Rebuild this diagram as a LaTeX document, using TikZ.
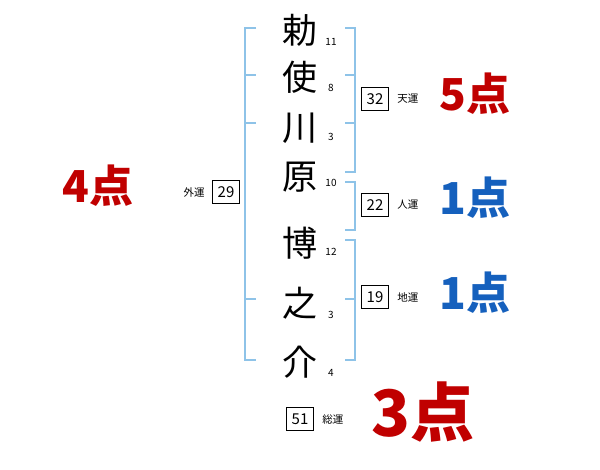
\documentclass[tikz,border=0pt]{standalone}
\usepackage{fontspec}
\setmainfont{Noto Sans CJK JP}
\usetikzlibrary{positioning}

\definecolor{kakusen}{HTML}{8EC3E8}
\definecolor{akaten}{HTML}{C00000}
\definecolor{aoten}{HTML}{1560BD}

\begin{document}
\begin{tikzpicture}[x=1pt,y=-1pt,
  moji/.style={font=\fontsize{35}{35}\selectfont},
  kakusu/.style={font=\fontsize{10}{10}\selectfont},
  numbox/.style={draw,line width=0.8pt,minimum width=27pt,minimum height=23pt,inner sep=0pt,font=\fontsize{15}{15}\selectfont},
  unlab/.style={font=\fontsize{10.5}{10.5}\selectfont},
  ten/.style={font=\fontsize{44}{44}\selectfont\bfseries},
  waku/.style={kakusen,line width=1.6pt}]
  \useasboundingbox (0,0) rectangle (600,470);
  % kanji (tate)
  \node[moji] (c1) at (300,30) {勅};
  \node[moji] (c2) at (300,77) {使};
  \node[moji] (c3) at (300,128) {川};
  \node[moji] (c4) at (300,177) {原};
  \node[moji] (c5) at (300,243) {博};
  \node[moji] (c6) at (300,303) {之};
  \node[moji] (c7) at (300,362) {介};
  % kakusu
  \node[kakusu] (k1) at (331,42) {11};
  \node[kakusu] (k2) at (331,88) {8};
  \node[kakusu] (k3) at (331,137) {3};
  \node[kakusu] (k4) at (331,183) {10};
  \node[kakusu] (k5) at (331,252) {12};
  \node[kakusu] (k6) at (331,315) {3};
  \node[kakusu] (k7) at (331,373) {4};
  % gaiun (hidari)
  \draw[waku] (256,28) -- (245,28) -- (245,360) -- (256,360);
  \draw[waku] (245,75) -- (256,75) (245,123) -- (256,123) (245,299) -- (256,299);
  % tenun
  \draw[waku] (345,28) -- (355,28) -- (355,172) -- (345,172);
  \draw[waku] (345,75) -- (355,75) (345,123) -- (355,123);
  % jinun
  \draw[waku] (345,182) -- (355,182) -- (355,230) -- (345,230);
  % chiun
  \draw[waku] (345,240) -- (355,240) -- (355,360) -- (345,360);
  \draw[waku] (345,299) -- (355,299);
  % kakusu no hako
  \node[numbox] (gai) at (226,192) {29};
  \node[unlab,left=4pt of gai] (gail) {外運};
  \node[numbox] (tenu) at (375,99) {32};
  \node[unlab,right=5pt of tenu] (tenl) {天運};
  \node[numbox] (jin) at (375,205) {22};
  \node[unlab,right=5pt of jin] (jinl) {人運};
  \node[numbox] (chi) at (375,297) {19};
  \node[unlab,right=5pt of chi] (chil) {地運};
  \node[numbox] (sou) at (300,419) {51};
  \node[unlab,right=5pt of sou] (soul) {総運};
  % tensu
  \node[ten,akaten] (p1) at (98,186) {4点};
  \node[ten,akaten] (p2) at (475,94) {5点};
  \node[ten,aoten] (p3) at (475,198) {1点};
  \node[ten,aoten] (p4) at (475,293) {1点};
  \node[ten,akaten,font=\fontsize{64}{64}\selectfont\bfseries] (p5) at (423,412) {3点};
\end{tikzpicture}
\end{document}
